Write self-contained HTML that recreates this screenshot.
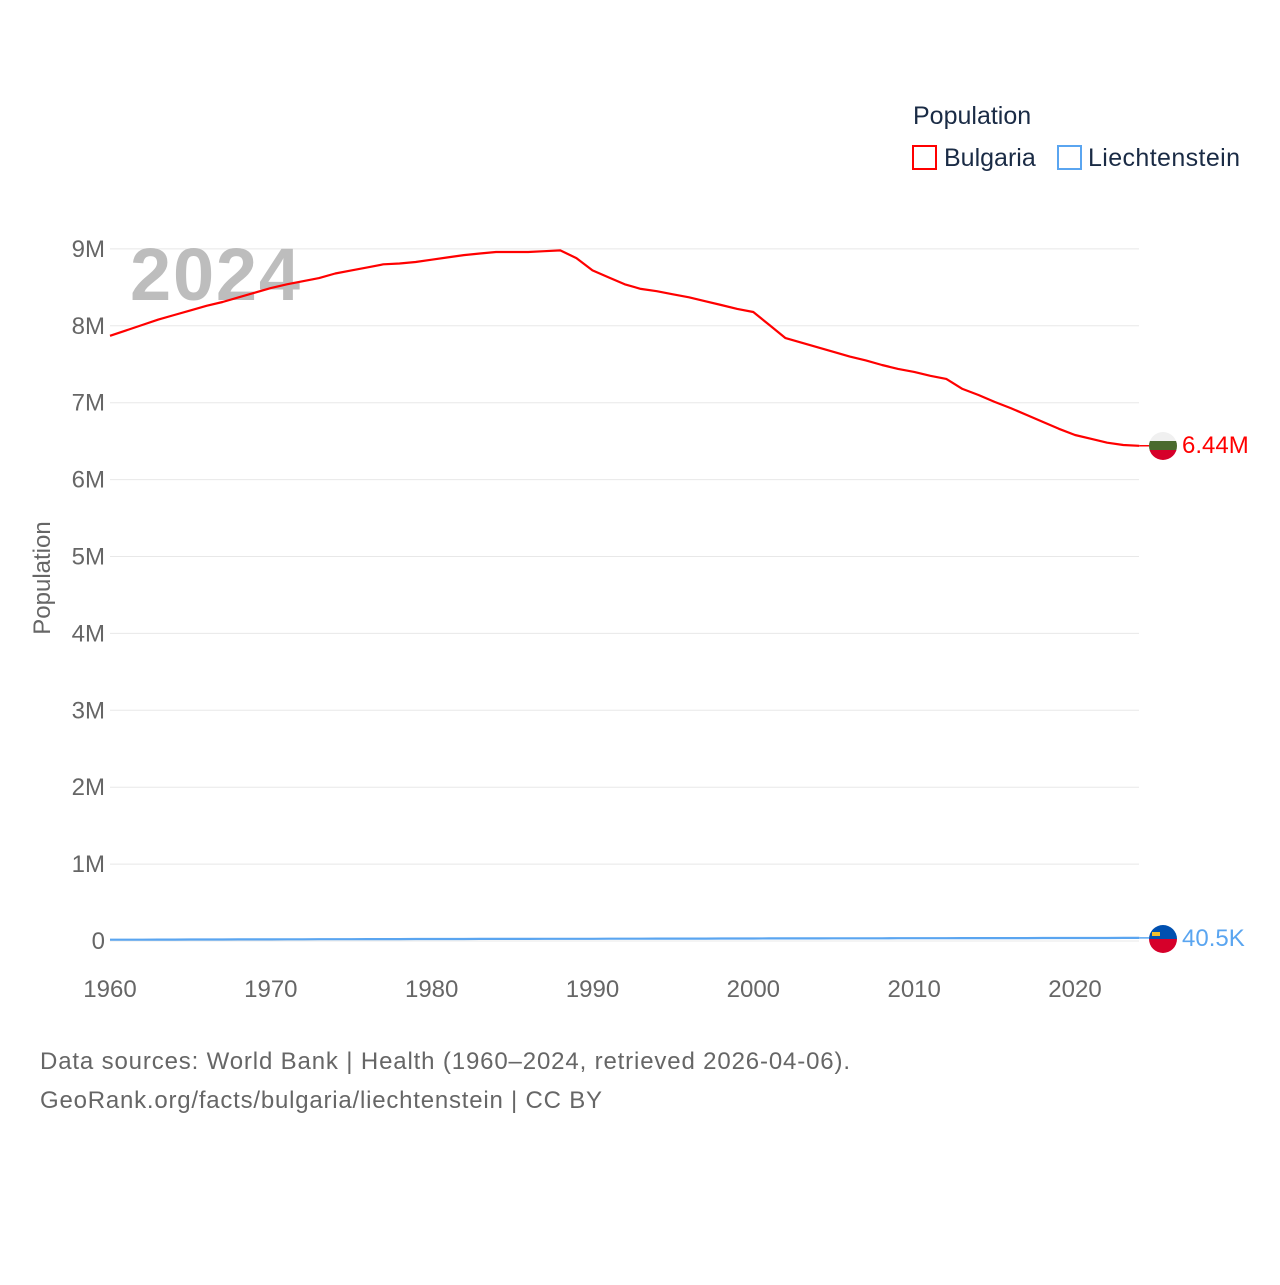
<!DOCTYPE html>
<html><head><meta charset="utf-8">
<style>
body{margin:0;background:#fff;font-family:"Liberation Sans",sans-serif;}
svg text{font-family:"Liberation Sans",sans-serif;}
</style></head>
<body>
<svg width="1280" height="1280" xmlns="http://www.w3.org/2000/svg">
<defs>
<clipPath id="c1"><circle cx="1163" cy="446" r="14"/></clipPath>
<clipPath id="c2"><circle cx="1163" cy="939" r="14"/></clipPath>
</defs>
<g id="grid"></g>
<g id="yticks"></g>
<g id="xticks"></g>
<text x="130" y="300" font-size="74" font-weight="bold" fill="#bdbdbd" textLength="170">2024</text>
<text transform="translate(50,578) rotate(-90)" text-anchor="middle" font-size="24" fill="#666">Population</text>
<g id="lines"></g>
<g>
<text x="913" y="124" font-size="25" fill="#1a2b45">Population</text>
<g><rect x="913" y="146" width="23" height="23" fill="none" stroke="#ff0000" stroke-width="2"/>
<text x="944" y="166" font-size="25" fill="#1a2b45">Bulgaria</text></g>
<g><rect x="1058" y="146" width="23" height="23" fill="none" stroke="#5aa5f0" stroke-width="2"/>
<text x="1088" y="166" font-size="25" fill="#1a2b45" textLength="152">Liechtenstein</text></g>
</g>
<g clip-path="url(#c1)">
<rect x="1149" y="432" width="28" height="10" fill="#f0f0f0"/><rect x="1149" y="441" width="28" height="10" fill="#4a6a2e"/><rect x="1149" y="450" width="28" height="11" fill="#d6002a"/>
</g>
<g clip-path="url(#c2)">
<rect x="1149" y="925" width="28" height="14" fill="#0050b0"/><rect x="1149" y="939" width="28" height="14" fill="#d6002a"/>
<rect x="1152" y="932" width="8" height="4" fill="#f2c02e"/>
</g>
<text x="1182" y="453" font-size="24" fill="#ff0000">6.44M</text>
<text x="1182" y="946" font-size="24" fill="#5aa5f0">40.5K</text>
<text x="40" y="1069" font-size="24" fill="#666" textLength="810">Data sources: World Bank | Health (1960–2024, retrieved 2026-04-06).</text>
<text x="40" y="1108" font-size="24" fill="#666" textLength="562">GeoRank.org/facts/bulgaria/liechtenstein | CC BY</text>
</svg>
<script>
const years=[];for(let y=1960;y<=2024;y++)years.push(y);
const bulgaria=[7.87,7.94,8.01,8.08,8.14,8.20,8.26,8.31,8.37,8.43,8.49,8.54,8.58,8.62,8.68,8.72,8.76,8.80,8.81,8.83,8.86,8.89,8.92,8.94,8.96,8.96,8.96,8.97,8.98,8.88,8.72,8.63,8.54,8.48,8.45,8.41,8.37,8.32,8.27,8.22,8.18,8.01,7.84,7.78,7.72,7.66,7.60,7.55,7.49,7.44,7.40,7.35,7.31,7.18,7.10,7.01,6.93,6.84,6.75,6.66,6.58,6.53,6.48,6.45,6.44];
const liechtenstein=[0.0165,0.017,0.0175,0.018,0.0186,0.0191,0.0196,0.0201,0.0205,0.021,0.0214,0.0219,0.0224,0.0229,0.0234,0.024,0.0246,0.025,0.0253,0.0256,0.0259,0.0263,0.0265,0.0269,0.0271,0.0274,0.0278,0.0282,0.0286,0.029,0.0291,0.0296,0.030,0.0304,0.0307,0.031,0.0313,0.0316,0.032,0.0323,0.033,0.0334,0.0338,0.0341,0.0344,0.0346,0.0349,0.0352,0.0355,0.0358,0.036,0.0364,0.0368,0.0371,0.0374,0.0376,0.0379,0.0381,0.0384,0.0387,0.039,0.0393,0.0395,0.0399,0.0405];
const yTicks=[0,1,2,3,4,5,6,7,8,9];
const yTickLabels=["0","1M","2M","3M","4M","5M","6M","7M","8M","9M"];
const xTicks=[1960,1970,1980,1990,2000,2010,2020];
const X=y=>110+(y-1960)*965/60;
const Y=v=>941-v*76.9;
const NS="http://www.w3.org/2000/svg";
function mk(t,a,p){const e=document.createElementNS(NS,t);for(const k in a)e.setAttribute(k,a[k]);p.appendChild(e);return e;}
const grid=document.getElementById('grid'),yt=document.getElementById('yticks'),xt=document.getElementById('xticks'),lines=document.getElementById('lines');
yTicks.forEach((v,i)=>{
 const l=mk('line',{x1:110,x2:1139,y1:Y(v),y2:Y(v),stroke:'#e8e8e8','stroke-width':1},grid);
 
 
 const t=mk('text',{x:105,y:Y(v)+8,'text-anchor':'end','font-size':24,fill:'#666'},yt);
 t.textContent=yTickLabels[i];
 
 
});
xTicks.forEach(v=>{
 const t=mk('text',{x:X(v),y:997,'text-anchor':'middle','font-size':24,fill:'#666'},xt);
 t.textContent=v;
 
 
});
function line(data,color,name){
 const d=data.map((v,i)=>(i?'L':'M')+X(years[i]).toFixed(1)+','+Y(v).toFixed(1)).join('');
 const p=mk('path',{d:d,fill:'none',stroke:color,'stroke-width':2.2,'stroke-linejoin':'round'},lines);
 
 
 const last=data[data.length-1];
 const c=mk('line',{x1:X(2024),x2:1149,y1:Y(last),y2:Y(last),stroke:color,'stroke-width':1.5},lines);
 
 
}
line(bulgaria,'#ff0000','bulgaria-line');
line(liechtenstein,'#5aa5f0','liechtenstein-line');
</script>
</body></html>
